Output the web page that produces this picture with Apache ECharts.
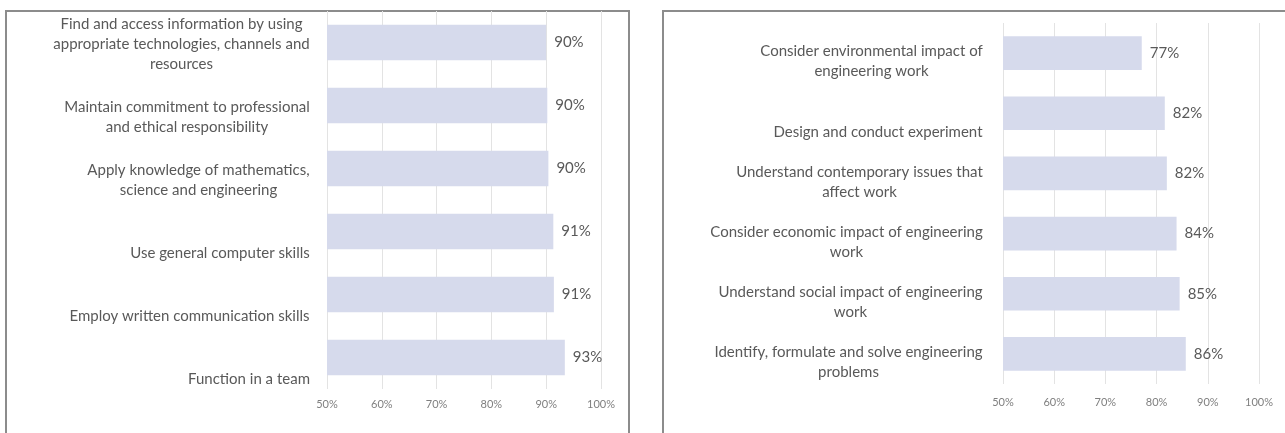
<!DOCTYPE html>
<html>
<head>
<meta charset="utf-8">
<script src="https://cdn.jsdelivr.net/npm/echarts@6/dist/echarts.min.js"></script>
<style>
html,body{margin:0;padding:0;background:#fff;}
#c{width:1285px;height:433px;}
</style>
</head>
<body>
<div id="c"></div>
<script>
// ---- data ----
const leftCategories = [
  'Find and access information by using\nappropriate technologies, channels and\nresources',
  'Maintain commitment to professional\nand ethical responsibility',
  'Apply knowledge of mathematics,\nscience and engineering',
  'Use general computer skills',
  'Employ written communication skills',
  'Function in a team'
];
const leftValues = [90.0, 90.2, 90.4, 91.3, 91.4, 93.4];

const rightCategories = [
  'Consider environmental impact of\nengineering work',
  'Design and conduct experiment',
  'Understand contemporary issues that\naffect work',
  'Consider economic impact of engineering\nwork',
  'Understand social impact of engineering\nwork',
  'Identify, formulate and solve engineering\nproblems'
];
const rightValues = [77.1, 81.6, 82.0, 83.9, 84.5, 85.7];

const axisMin = 50, axisMax = 100, axisStep = 10;

// ---- styling ----
const FONT = 'Lato';
const CAT_SIZE = 15;
const LH = 20;
const textColor = '#595959';
const barColor = '#D6DAEC';

const ctx = document.createElement('canvas').getContext('2d');
ctx.font = CAT_SIZE + 'px ' + FONT;
function blockWidth(s){
  return Math.ceil(Math.max.apply(null, s.split('\n').map(l => ctx.measureText(l).width)));
}
// labels: lines centred within their block, block right-aligned, and
// blocks pushed down (bottom-aligned within a slot) like the original
function makeLabel(cats, prefix, baseShift){
  const maxLines = Math.max.apply(null, cats.map(c => c.split('\n').length));
  const rich = {};
  cats.forEach((c, i) => {
    const n = c.split('\n').length;
    rich[prefix + i] = {width: blockWidth(c), align: 'center', fontFamily: FONT, fontSize: CAT_SIZE, color: textColor, lineHeight: LH};
    const sp = baseShift + (maxLines - n) * LH;
    rich[prefix + 's' + i] = {fontSize: 1, lineHeight: Math.max(sp, 1), width: 1};
  });
  return {
    rich: rich,
    formatter: function(v){
      const i = cats.indexOf(v);
      const n = v.split('\n').length;
      const sp = baseShift + (maxLines - n) * LH;
      const body = v.split('\n').map(l => '{' + prefix + i + '|' + l + '}').join('\n');
      return sp > 0 ? '{' + prefix + 's' + i + '| }\n' + body : body;
    }
  };
}

const chart = echarts.init(document.getElementById('c'));
function xAxisCfg(gi, margin){
  return {
    type: 'value', gridIndex: gi, min: axisMin, max: axisMax, interval: axisStep,
    axisLine: {show: false}, axisTick: {show: false},
    splitLine: {show: true, lineStyle: {color: '#E3E3E3', width: 1}},
    axisLabel: {formatter: '{value}%', color: '#7f7f7f', fontFamily: FONT, fontSize: 11, margin: margin}
  };
}
function yAxisCfg(gi, cats, prefix, margin, baseShift){
  const l = makeLabel(cats, prefix, baseShift);
  return {
    type: 'category', gridIndex: gi, data: cats, inverse: true,
    axisLine: {show: false}, axisTick: {show: false},
    axisLabel: {margin: margin, rich: l.rich, formatter: l.formatter, color: textColor, fontFamily: FONT, fontSize: CAT_SIZE, lineHeight: LH, interval: 0}
  };
}
function seriesCfg(gi, vals){
  return {
    type: 'bar', xAxisIndex: gi, yAxisIndex: gi, data: vals, barWidth: '56%',
    itemStyle: {color: barColor},
    label: {show: true, position: 'right', distance: 8, color: textColor, fontFamily: FONT, fontSize: 15,
      formatter: p => Math.round(p.value) + '%'},
    silent: true
  };
}

chart.setOption({
  animation: false,
  backgroundColor: '#fff',
  grid: [
    {left: 327, right: 1285 - 601, top: 11, bottom: 433 - 389},
    {left: 1003, right: 1285 - 1259, top: 23, bottom: 433 - 384}
  ],
  xAxis: [xAxisCfg(0, 10), xAxisCfg(1, 13)],
  yAxis: [yAxisCfg(0, leftCategories, 'l', 17, 4), yAxisCfg(1, rightCategories, 'r', 20, 17)],
  series: [seriesCfg(0, leftValues), seriesCfg(1, rightValues)],
  graphic: [
    {type: 'rect', silent: true, shape: {x: 6, y: 11, width: 623, height: 440}, style: {fill: 'none', stroke: '#8c8c8c', lineWidth: 2}},
    {type: 'rect', silent: true, shape: {x: 663, y: 11, width: 640, height: 440}, style: {fill: 'none', stroke: '#8c8c8c', lineWidth: 2}}
  ]
});
</script>
</body>
</html>
